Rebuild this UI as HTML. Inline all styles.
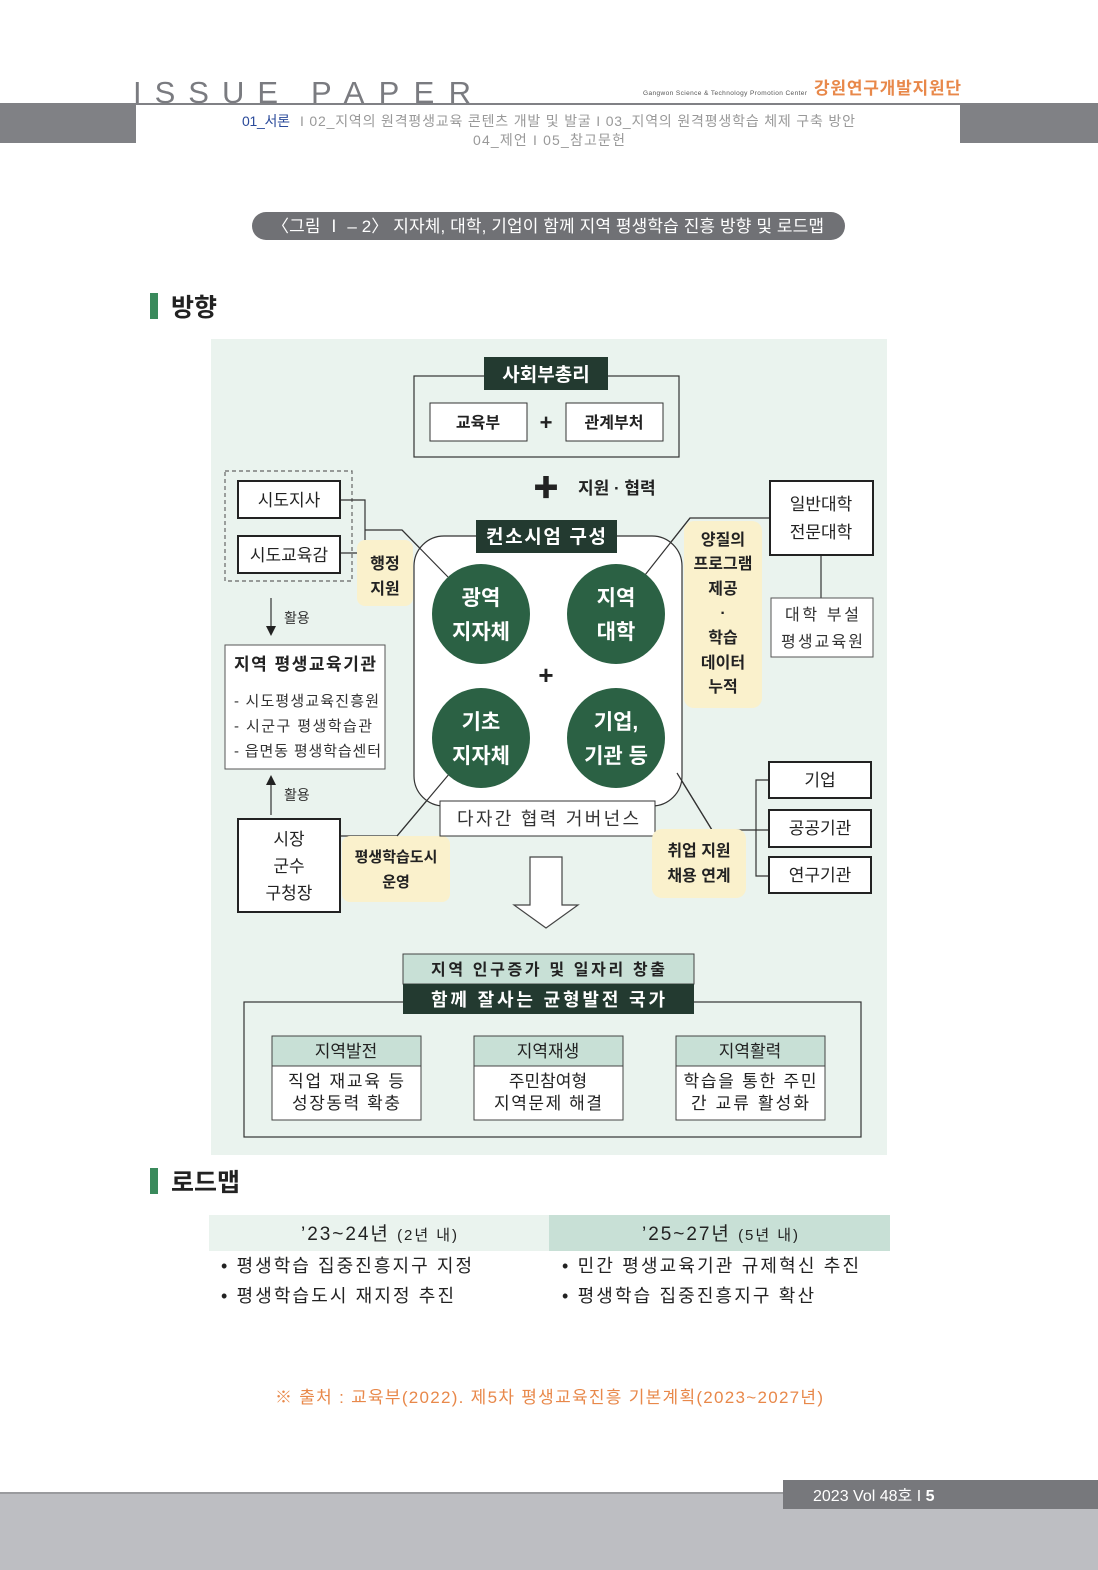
<!DOCTYPE html>
<html><head><meta charset="utf-8">
<style>
html,body{margin:0;padding:0;background:#fff}
svg{display:block}
text{font-family:"Liberation Sans","Noto Sans CJK KR",sans-serif}
</style></head><body>
<svg width="1098" height="1570" viewBox="0 0 1098 1570" xmlns="http://www.w3.org/2000/svg">
<!-- header -->
<text x="133" y="103" font-size="31" fill="#7a7b80" textLength="145" lengthAdjust="spacing">ISSUE</text>
<text x="311" y="103" font-size="31" fill="#7a7b80" textLength="160" lengthAdjust="spacing">PAPER</text>
<text x="643" y="95" font-size="6.5" fill="#555" textLength="164">Gangwon Science &amp; Technology Promotion Center</text>
<text x="814" y="94" font-size="17" fill="#e8884a" font-weight="bold" textLength="147">강원연구개발지원단</text>
<rect x="0" y="103" width="136" height="40" fill="#808185"/>
<rect x="960" y="103" width="138" height="40" fill="#808185"/>
<rect x="136" y="103" width="824" height="2" fill="#808185"/>
<text x="242" y="126" font-size="14" fill="#2a4a9a" textLength="48">01_서론</text>
<text x="300" y="126" font-size="14" fill="#999" textLength="555">I  02_지역의 원격평생교육 콘텐츠 개발 및 발굴 I  03_지역의 원격평생학습 체제 구축 방안</text>
<text x="473" y="145" font-size="14" fill="#999" textLength="152">04_제언   I  05_참고문헌</text>
<!-- caption -->
<rect x="252" y="212" width="593" height="28" rx="14" fill="#707175"/>
<text x="272" y="232" font-size="17" fill="#fff" textLength="552">〈그림 Ⅰ – 2〉 지자체, 대학, 기업이 함께 지역 평생학습 진흥 방향 및 로드맵</text>
<!-- heading 방향 -->
<rect x="150" y="293" width="8" height="26" fill="#3a8a5c"/>
<text x="171" y="316" font-size="25" font-weight="bold" fill="#222">방향</text>
<!-- diagram bg -->
<rect x="211" y="339" width="676" height="816" fill="#eaf3ee"/>
<g stroke="#333" fill="none" stroke-width="1.2">
<rect x="414" y="376" width="265" height="81"/>
<rect x="225" y="471" width="127" height="110" stroke-dasharray="4 3" stroke="#666"/>
<polyline points="340,500 365,500 365,553 340,553"/>
<polyline points="365,530 402,530 448,577"/>
<polyline points="770,518 690,518 645,575"/>
<line x1="821" y1="555" x2="821" y2="598"/>
<polyline points="340,836 397,836 450,773"/>
<polyline points="677,773 712,830 769,830"/>
<polyline points="769,780 756,780 756,876 769,876"/>
<line x1="271" y1="598" x2="271" y2="628"/>
<line x1="271" y1="783" x2="271" y2="815"/>
<rect x="244" y="1002" width="617" height="135"/>
</g>
<polygon points="266,626 276,626 271,636" fill="#222"/>
<polygon points="266,785 276,785 271,775" fill="#222"/>
<!-- top boxes -->
<rect x="484" y="357" width="124" height="33" fill="#233a30"/>
<text x="546" y="381" font-size="19" font-weight="bold" fill="#fff" text-anchor="middle">사회부총리</text>
<rect x="430" y="403" width="97" height="38" fill="#fff" stroke="#333"/>
<text x="478" y="428" font-size="16" font-weight="bold" fill="#222" text-anchor="middle">교육부</text>
<rect x="566" y="403" width="97" height="38" fill="#fff" stroke="#333"/>
<text x="614" y="428" font-size="16" font-weight="bold" fill="#222" text-anchor="middle">관계부처</text>
<text x="546" y="430" font-size="22" font-weight="bold" fill="#222" text-anchor="middle">+</text>
<text x="546" y="497" font-size="26" font-weight="bold" fill="#222" text-anchor="middle">✚</text>
<text x="578" y="494" font-size="17" font-weight="bold" fill="#222">지원 · 협력</text>
<!-- left boxes -->
<rect x="238" y="481" width="102" height="37" fill="#fff" stroke="#222" stroke-width="2"/>
<text x="289" y="506" font-size="17" fill="#222" text-anchor="middle">시도지사</text>
<rect x="238" y="536" width="102" height="37" fill="#fff" stroke="#222" stroke-width="2"/>
<text x="289" y="561" font-size="17" fill="#222" text-anchor="middle">시도교육감</text>
<rect x="357" y="540" width="56" height="66" rx="8" fill="#faf1cc"/>
<text x="385" y="569" font-size="16" font-weight="bold" fill="#222" text-anchor="middle">행정</text>
<text x="385" y="594" font-size="16" font-weight="bold" fill="#222" text-anchor="middle">지원</text>
<text x="284" y="623" font-size="14" fill="#333">활용</text>
<rect x="225" y="645" width="160" height="124" fill="#fff" stroke="#555"/>
<text x="305" y="670" font-size="17" font-weight="bold" fill="#222" text-anchor="middle" textLength="142">지역 평생교육기관</text>
<text x="234" y="706" font-size="15" fill="#333" textLength="145">- 시도평생교육진흥원</text>
<text x="234" y="731" font-size="15" fill="#333" textLength="138">- 시군구 평생학습관</text>
<text x="234" y="756" font-size="15" fill="#333" textLength="147">- 읍면동 평생학습센터</text>
<text x="284" y="800" font-size="14" fill="#333">활용</text>
<rect x="238" y="819" width="102" height="93" fill="#fff" stroke="#222" stroke-width="2"/>
<text x="289" y="845" font-size="17" fill="#222" text-anchor="middle">시장</text>
<text x="289" y="872" font-size="17" fill="#222" text-anchor="middle">군수</text>
<text x="289" y="899" font-size="17" fill="#222" text-anchor="middle">구청장</text>
<rect x="342" y="836" width="108" height="66" rx="8" fill="#faf1cc"/>
<text x="396" y="862" font-size="15" font-weight="bold" fill="#222" text-anchor="middle">평생학습도시</text>
<text x="396" y="887" font-size="15" font-weight="bold" fill="#222" text-anchor="middle">운영</text>
<!-- consortium -->
<rect x="414" y="536" width="268" height="270" rx="30" fill="#fff" stroke="#333" stroke-width="1.2"/>
<g stroke="#333" fill="none" stroke-width="1.2">
<line x1="402" y1="530" x2="448" y2="577"/>
<line x1="690" y1="518" x2="645" y2="575"/>
<line x1="397" y1="836" x2="450" y2="773"/>
<line x1="677" y1="773" x2="712" y2="830"/>
</g>
<rect x="476" y="520" width="141" height="33" fill="#233a30"/>
<text x="546" y="543" font-size="19" font-weight="bold" fill="#fff" text-anchor="middle" textLength="120">컨소시엄 구성</text>
<g fill="#2b6144">
<ellipse cx="481" cy="614" rx="49" ry="50"/>
<ellipse cx="616" cy="614" rx="49" ry="50"/>
<ellipse cx="481" cy="738" rx="49" ry="50"/>
<ellipse cx="616" cy="738" rx="49" ry="50"/>
</g>
<g font-size="21" font-weight="bold" fill="#fff" text-anchor="middle">
<text x="481" y="605">광역</text><text x="481" y="639">지자체</text>
<text x="616" y="605">지역</text><text x="616" y="639">대학</text>
<text x="481" y="729">기초</text><text x="481" y="763">지자체</text>
<text x="616" y="729">기업,</text><text x="616" y="763">기관 등</text>
</g>
<text x="546" y="684" font-size="26" font-weight="bold" fill="#222" text-anchor="middle">+</text>
<rect x="440" y="801" width="215" height="35" fill="#fff" stroke="#333"/>
<text x="548" y="825" font-size="18" fill="#333" text-anchor="middle" textLength="182">다자간 협력 거버넌스</text>
<!-- right -->
<rect x="684" y="521" width="78" height="187" rx="10" fill="#faf1cc"/>
<g font-size="16" font-weight="bold" fill="#222" text-anchor="middle">
<text x="723" y="545">양질의</text><text x="723" y="569">프로그램</text><text x="723" y="594">제공</text>
<text x="723" y="618">·</text><text x="723" y="643">학습</text><text x="723" y="668">데이터</text><text x="723" y="692">누적</text>
</g>
<rect x="770" y="481" width="103" height="74" fill="#fff" stroke="#222" stroke-width="2"/>
<text x="821" y="510" font-size="17" fill="#222" text-anchor="middle">일반대학</text>
<text x="821" y="538" font-size="17" fill="#222" text-anchor="middle">전문대학</text>
<rect x="771" y="598" width="102" height="59" fill="#fff" stroke="#555"/>
<text x="822" y="620" font-size="16" fill="#333" text-anchor="middle" textLength="74">대학 부설</text>
<text x="822" y="647" font-size="16" fill="#333" text-anchor="middle" textLength="82">평생교육원</text>
<rect x="769" y="762" width="102" height="36" fill="#fff" stroke="#222" stroke-width="2"/>
<text x="820" y="786" font-size="17" fill="#222" text-anchor="middle">기업</text>
<rect x="769" y="810" width="102" height="37" fill="#fff" stroke="#222" stroke-width="2"/>
<text x="820" y="834" font-size="17" fill="#222" text-anchor="middle">공공기관</text>
<rect x="769" y="857" width="102" height="36" fill="#fff" stroke="#222" stroke-width="2"/>
<text x="820" y="881" font-size="17" fill="#222" text-anchor="middle">연구기관</text>
<rect x="652" y="829" width="94" height="69" rx="10" fill="#faf1cc"/>
<text x="699" y="856" font-size="16" font-weight="bold" fill="#222" text-anchor="middle">취업 지원</text>
<text x="699" y="881" font-size="16" font-weight="bold" fill="#222" text-anchor="middle">채용 연계</text>
<!-- hollow arrow -->
<polygon points="530,857 562,857 562,905 578,905 546,928 514,905 530,905" fill="#fff" stroke="#444" stroke-width="1.2"/>
<!-- bottom -->
<rect x="403" y="954" width="291" height="30" fill="#c8e0d6" stroke="#444"/>
<text x="548" y="975" font-size="16" font-weight="bold" fill="#222" text-anchor="middle" textLength="234">지역 인구증가 및 일자리 창출</text>
<rect x="403" y="984" width="291" height="30" fill="#233a30"/>
<text x="548" y="1006" font-size="18" font-weight="bold" fill="#fff" text-anchor="middle" textLength="234">함께 잘사는 균형발전 국가</text>
<g stroke="#444">
<rect x="272" y="1036" width="149" height="30" fill="#c8e0d6"/><rect x="272" y="1066" width="149" height="54" fill="#fff"/>
<rect x="474" y="1036" width="149" height="30" fill="#c8e0d6"/><rect x="474" y="1066" width="149" height="54" fill="#fff"/>
<rect x="676" y="1036" width="149" height="30" fill="#c8e0d6"/><rect x="676" y="1066" width="149" height="54" fill="#fff"/>
</g>
<g font-size="17" fill="#222" text-anchor="middle">
<text x="346" y="1057">지역발전</text><text x="346" y="1087" textLength="116">직업 재교육 등</text><text x="346" y="1109" textLength="108">성장동력 확충</text>
<text x="548" y="1057">지역재생</text><text x="548" y="1087">주민참여형</text><text x="548" y="1109" textLength="108">지역문제 해결</text>
<text x="750" y="1057">지역활력</text><text x="750" y="1087" textLength="133">학습을 통한 주민</text><text x="750" y="1109" textLength="118">간 교류 활성화</text>
</g>
<!-- roadmap -->
<rect x="150" y="1168" width="8" height="26" fill="#3a8a5c"/>
<text x="171" y="1191" font-size="25" font-weight="bold" fill="#222">로드맵</text>
<rect x="209" y="1215" width="340" height="36" fill="#eaf3ee"/>
<rect x="549" y="1215" width="341" height="36" fill="#c8e0d6"/>
<text x="379" y="1240" font-size="19" fill="#222" text-anchor="middle" textLength="156">’23~24년 <tspan font-size="15">(2년 내)</tspan></text>
<text x="720" y="1240" font-size="19" fill="#222" text-anchor="middle" textLength="156">’25~27년 <tspan font-size="15">(5년 내)</tspan></text>
<g font-size="18" fill="#222">
<text x="221" y="1272" textLength="251">• 평생학습 집중진흥지구 지정</text>
<text x="221" y="1302" textLength="233">• 평생학습도시 재지정 추진</text>
<text x="562" y="1272" textLength="297">• 민간 평생교육기관 규제혁신 추진</text>
<text x="562" y="1302" textLength="252">• 평생학습 집중진흥지구 확산</text>
</g>
<text x="275" y="1403" font-size="17" fill="#e8884a" textLength="548">※ 출처 : 교육부(2022). 제5차 평생교육진흥 기본계획(2023~2027년)</text>
<!-- footer -->
<rect x="0" y="1493" width="1098" height="77" fill="#bdbec2"/>
<rect x="0" y="1492" width="1098" height="2" fill="#9a9b9e"/>
<rect x="783" y="1480" width="315" height="29" fill="#77787c"/>
<text x="813" y="1501" font-size="16" fill="#fff">2023 Vol 48호   I   <tspan font-weight="bold">5</tspan></text>
</svg>
</body></html>
